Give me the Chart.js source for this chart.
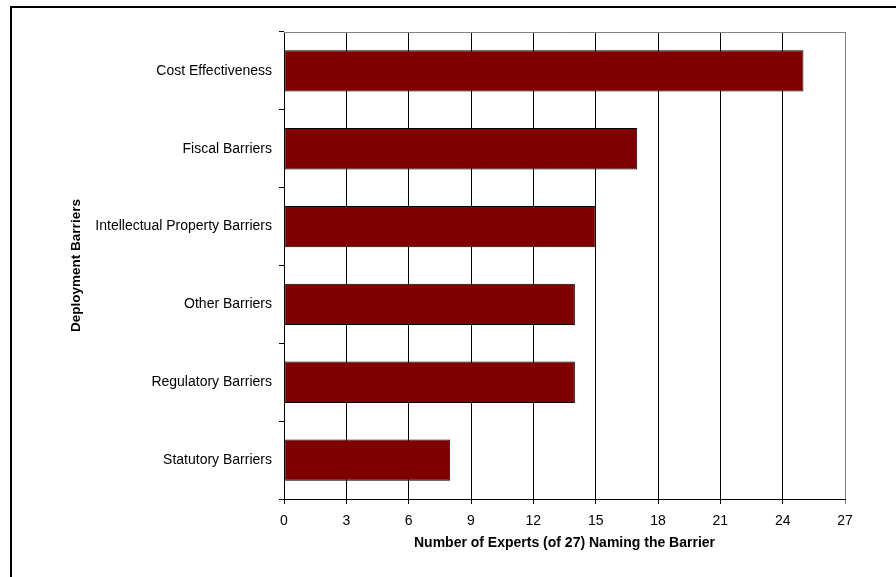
<!DOCTYPE html>
<html>
<head>
<meta charset="utf-8">
<script src="https://cdn.jsdelivr.net/npm/chart.js@4"></script>
<style>
  html, body { margin: 0; padding: 0; background: #fff; }
  #wrap { width: 896px; height: 577px; }
</style>
</head>
<body>
<div id="wrap"><canvas id="barChart" width="896" height="577"></canvas></div>
<script>
// ===================== Dados =====================
const categories = [
    "Cost Effectiveness",
    "Fiscal Barriers",
    "Intellectual Property Barriers",
    "Other Barriers",
    "Regulatory Barriers",
    "Statutory Barriers"
];
const expertCounts = [25, 17, 15, 14, 14, 8];
const xTicks = [0, 3, 6, 9, 12, 15, 18, 21, 24, 27];

const xTitle = "Number of Experts (of 27) Naming the Barrier";
const yTitle = "Deployment Barriers";

// ===================== Plugins =====================
// moldura externa (só topo e esquerda aparecem) + borda cinza da área do gráfico
const framePlugin = {
    id: "frame",
    beforeDraw(chart) {
        const ctx = chart.ctx;
        ctx.save();
        ctx.fillStyle = "#fff";
        ctx.fillRect(0, 0, chart.width, chart.height);
        ctx.strokeStyle = "#000";
        ctx.lineWidth = 2;
        ctx.beginPath();
        ctx.moveTo(11, chart.height + 2);
        ctx.lineTo(11, 7);
        ctx.lineTo(chart.width + 2, 7);
        ctx.stroke();
        ctx.restore();
    },
    afterDatasetsDraw(chart) {
        const { ctx, chartArea: a } = chart;
        ctx.save();
        ctx.strokeStyle = "#808080";
        ctx.lineWidth = 1;
        ctx.beginPath();
        ctx.moveTo(a.left, a.top + 0.5);
        ctx.lineTo(a.right + 0.5, a.top + 0.5);
        ctx.lineTo(a.right + 0.5, a.bottom);
        ctx.stroke();
        ctx.restore();
    }
};

// ===================== Gráfico =====================
const family = "'Liberation Sans', Arial, sans-serif";
const tickFont = { family, size: 14 };

new Chart(document.getElementById("barChart").getContext("2d"), {
    type: "bar",
    data: {
        labels: categories,
        datasets: [{
            data: expertCounts,
            backgroundColor: "#800000",
            borderColor: "#000",
            borderWidth: 1,
            borderSkipped: false,
            categoryPercentage: 1,
            barPercentage: 0.53
        }]
    },
    options: {
        indexAxis: "y",
        responsive: false,
        animation: false,
        layout: { padding: { left: 64, top: 32, right: 51, bottom: 21 } },
        plugins: { legend: { display: false }, tooltip: { enabled: false } },
        scales: {
            x: {
                min: 0,
                max: 27,
                afterBuildTicks: (scale) => { scale.ticks = xTicks.map(v => ({ value: v })); },
                afterFit: (scale) => { scale.height = 57; },
                ticks: { color: "#000", font: tickFont, padding: 9, maxRotation: 0 },
                grid: {
                    color: (c) => (c.tick && c.tick.value === 27 ? "#808080" : "#000"),
                    lineWidth: 1,
                    tickLength: 5,
                    drawTicks: true
                },
                border: { color: "#000", width: 1 },
                title: {
                    display: true,
                    text: xTitle,
                    color: "#000",
                    font: { family, size: 14, weight: "bold" },
                    padding: { top: 4, bottom: 4 }
                }
            },
            y: {
                afterFit: (scale) => { scale.width = 220; },
                ticks: { color: "#000", font: tickFont, padding: 7 },
                grid: {
                    offset: true,
                    drawOnChartArea: false,
                    drawTicks: true,
                    tickLength: 5,
                    color: "#000"
                },
                border: { color: "#000", width: 1 },
                title: {
                    display: true,
                    text: yTitle,
                    color: "#000",
                    font: { family, size: 13.5, weight: "bold" },
                    padding: { top: 4, bottom: 4 }
                }
            }
        }
    },
    plugins: [framePlugin]
});
</script>
</body>
</html>
